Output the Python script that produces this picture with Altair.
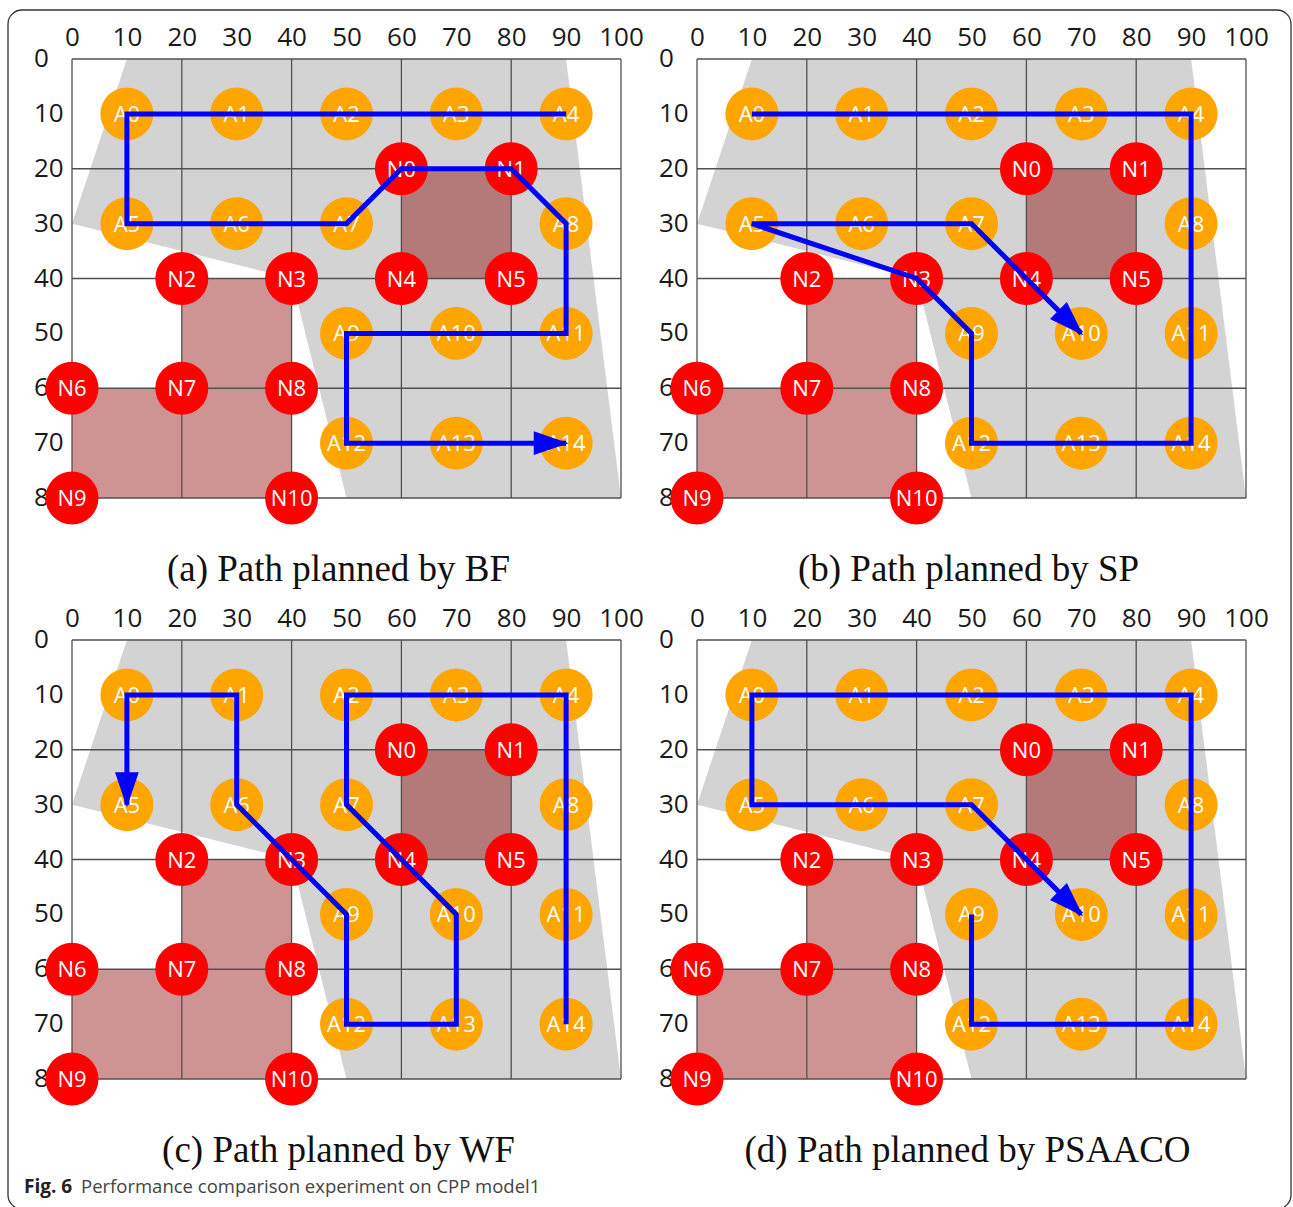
import math
import altair as alt
import pandas as pd

# ---------------- data ----------------
a_names = ["A0", "A1", "A2", "A3", "A4", "A5", "A6", "A7", "A8", "A9", "A10", "A11", "A12", "A13", "A14"]
a_x = [10, 30, 50, 70, 90, 10, 30, 50, 90, 50, 70, 90, 50, 70, 90]
a_y = [10, 10, 10, 10, 10, 30, 30, 30, 30, 50, 50, 50, 70, 70, 70]

n_names = ["N0", "N1", "N2", "N3", "N4", "N5", "N6", "N7", "N8", "N9", "N10"]
n_x = [60, 80, 20, 40, 60, 80, 0, 20, 40, 0, 40]
n_y = [20, 20, 40, 40, 40, 40, 60, 60, 60, 80, 80]

# gray coverage region (upper / lower boundary at each x)
region_x = [0, 10, 40, 50, 90, 100]
region_top = [30, 0, 0, 0, 0, 80]
region_bottom = [30, 32.5, 40, 80, 80, 80]

# obstacles
obs_x1 = [60, 20, 0]
obs_x2 = [80, 40, 40]
obs_y1 = [20, 40, 60]
obs_y2 = [40, 60, 80]

grid_x = [0, 20, 40, 60, 80, 100]
grid_y = [0, 20, 40, 60, 80]
x_ticks = [0, 10, 20, 30, 40, 50, 60, 70, 80, 90, 100]
y_ticks = [0, 10, 20, 30, 40, 50, 60, 70, 80]

path_bf = ["A4", "A3", "A2", "A1", "A0", "A5", "A6", "A7", "N0", "N1", "A8", "A11", "A10", "A9", "A12", "A13", "A14"]
path_sp = ["A0", "A1", "A2", "A3", "A4", "A8", "A11", "A14", "A13", "A12", "A9", "N3", "A5", "A6", "A7", "N4", "A10"]
path_wf = ["A14", "A11", "A8", "A4", "A3", "A2", "A7", "N4", "A10", "A13", "A12", "A9", "N3", "A6", "A1", "A0", "A5"]
path_ps = ["A9", "A12", "A13", "A14", "A11", "A8", "A4", "A3", "A2", "A1", "A0", "A5", "A6", "A7", "N4", "A10"]

captions = ["(a) Path planned by BF", "(b) Path planned by SP",
            "(c) Path planned by WF", "(d) Path planned by PSAACO"]
fig_label = ["Fig. 6"]
fig_text = ["Performance comparison experiment on CPP model1"]

# ---------------- style ----------------
W, H = 549, 439
ORANGE = "#ffa500"
RED = "#ff0000"
BLUE = "#0000ff"
GRAY = "#d3d3d3"
GRID = "#505050"
OBST = "#8b0000"
SANS = "Open Sans"
SERIF = "Liberation Serif"
ARROW = "M0.15,0L-1.85,-0.68L-1.85,0.68Z"

XS = alt.Scale(domain=[0, 100], nice=False, zero=False)
YS = alt.Scale(domain=[0, 80], nice=False, zero=False, reverse=True)

pos = {}
for nm, x, y in zip(a_names, a_x, a_y):
    pos[nm] = (x, y)
for nm, x, y in zip(n_names, n_x, n_y):
    pos[nm] = (x, y)

nodes_df = pd.DataFrame({
    "name": a_names + n_names,
    "x": a_x + n_x,
    "y": a_y + n_y,
    "kind": ["A"] * len(a_names) + ["N"] * len(n_names),
})
region_df = pd.DataFrame({"x": region_x, "top": region_top, "bottom": region_bottom})
obs_df = pd.DataFrame({"x1": obs_x1, "x2": obs_x2, "y1": obs_y1, "y2": obs_y2})
gv_df = pd.DataFrame({"x": grid_x, "y1": [grid_y[0]] * len(grid_x), "y2": [grid_y[-1]] * len(grid_x)})
gh_df = pd.DataFrame({"y": grid_y, "x1": [grid_x[0]] * len(grid_y), "x2": [grid_x[-1]] * len(grid_y)})
ylab_df = pd.DataFrame({"v": y_ticks, "lab": [str(v) for v in y_ticks]})

top_axis = alt.Axis(orient="top", values=x_ticks, title=None, ticks=False, domain=False, grid=False,
                    labelFont=SANS, labelFontSize=26, labelColor="#1a1a1a", labelPadding=9,
                    labelFlush=False, labelOverlap=False)


def panel(path, caption, title_x, extra=None):
    region = alt.Chart(region_df).mark_area(color=GRAY, opacity=1).encode(
        x=alt.X("x:Q", scale=XS, axis=top_axis),
        y=alt.Y("top:Q", scale=YS, axis=None),
        y2="bottom:Q",
    )
    obst = alt.Chart(obs_df).mark_rect(color=OBST, opacity=0.42).encode(
        x=alt.X("x1:Q", scale=XS, axis=None), x2="x2:Q",
        y=alt.Y("y1:Q", scale=YS, axis=None), y2="y2:Q",
    )
    cap_axis = alt.Axis(orient="bottom", labels=False, ticks=False, domain=False, grid=False,
                        title=caption, titleFont=SERIF, titleFontSize=37, titleFontWeight="normal",
                        titleColor="#111111", titlePadding=53, titleX=title_x)
    gv = alt.Chart(gv_df).mark_rule(color=GRID, strokeWidth=1.3).encode(
        x=alt.X("x:Q", scale=XS, axis=cap_axis),
        y=alt.Y("y1:Q", scale=YS, axis=None), y2="y2:Q",
    )
    gh = alt.Chart(gh_df).mark_rule(color=GRID, strokeWidth=1.3).encode(
        y=alt.Y("y:Q", scale=YS, axis=None),
        x=alt.X("x1:Q", scale=XS, axis=None), x2="x2:Q",
    )
    ylab = alt.Chart(ylab_df).mark_text(font=SANS, fontSize=26, color="#1a1a1a", align="left",
                                         baseline="middle").encode(
        y=alt.Y("v:Q", scale=YS, axis=None),
        x=alt.value(-38),
        text="lab:N",
    )
    circ = alt.Chart(nodes_df).mark_circle(size=2809, opacity=1).encode(
        x=alt.X("x:Q", scale=XS, axis=None),
        y=alt.Y("y:Q", scale=YS, axis=None),
        color=alt.Color("kind:N", scale=alt.Scale(domain=["A", "N"], range=[ORANGE, RED]), legend=None),
    )
    txt = alt.Chart(nodes_df).mark_text(color="white", font=SANS, fontSize=22, align="center",
                                         baseline="middle", dy=1).encode(
        x=alt.X("x:Q", scale=XS, axis=None),
        y=alt.Y("y:Q", scale=YS, axis=None),
        text="name:N",
    )
    pdf = pd.DataFrame({
        "step": list(range(len(path))),
        "x": [pos[p][0] for p in path],
        "y": [pos[p][1] for p in path],
    })
    line = alt.Chart(pdf).mark_line(color=BLUE, strokeWidth=5, strokeJoin="miter", strokeCap="butt").encode(
        x=alt.X("x:Q", scale=XS, axis=None),
        y=alt.Y("y:Q", scale=YS, axis=None),
        order="step:Q",
    )
    (x0, y0), (x1, y1) = pos[path[-2]], pos[path[-1]]
    ang = math.degrees(math.atan2(y1 - y0, x1 - x0)) % 360
    adf = pd.DataFrame({"x": [x1], "y": [y1], "ang": [ang]})
    arrow = alt.Chart(adf).mark_point(shape=ARROW, filled=True, size=1225, color=BLUE, opacity=1,
                                      strokeWidth=0).encode(
        x=alt.X("x:Q", scale=XS, axis=None),
        y=alt.Y("y:Q", scale=YS, axis=None),
        angle=alt.Angle("ang:Q", scale=None),
    )
    layers = [region, obst, gv, gh, ylab, circ, txt, line, arrow]
    if extra:
        layers += extra
    return alt.layer(*layers).properties(width=W, height=H)


frame = alt.Chart(pd.DataFrame({"f": [0]})).mark_rect(
    fill="white", fillOpacity=0, stroke="#333333", strokeWidth=1.3, cornerRadius=14
).encode(x=alt.value(-64), x2=alt.value(1219), y=alt.value(-49), y2=alt.value(1150))

figlab = alt.Chart(pd.DataFrame({"t": fig_label})).mark_text(
    font=SANS, fontSize=19, fontWeight="bold", color="#222222", align="left", baseline="middle"
).encode(text="t:N", x=alt.value(-48), y=alt.value(547))
figtxt = alt.Chart(pd.DataFrame({"t": fig_text})).mark_text(
    font=SANS, fontSize=18.5, color="#444444", align="left", baseline="middle"
).encode(text="t:N", x=alt.value(9), y=alt.value(547))

pa = panel(path_bf, captions[0], 266, extra=[frame])
pb = panel(path_sp, captions[1], 271)
pc = panel(path_wf, captions[2], 266, extra=[figlab, figtxt])
pd_ = panel(path_ps, captions[3], 270)

chart = alt.concat(pa, pb, pc, pd_, columns=2, spacing={"row": 142, "column": 76}, bounds="flush").properties(
    padding={"left": 7, "top": 9, "right": 1, "bottom": 0},
    background="white",
).configure_view(stroke=None)

chart.save("out.html", embed_options={"renderer": "svg", "actions": False})
